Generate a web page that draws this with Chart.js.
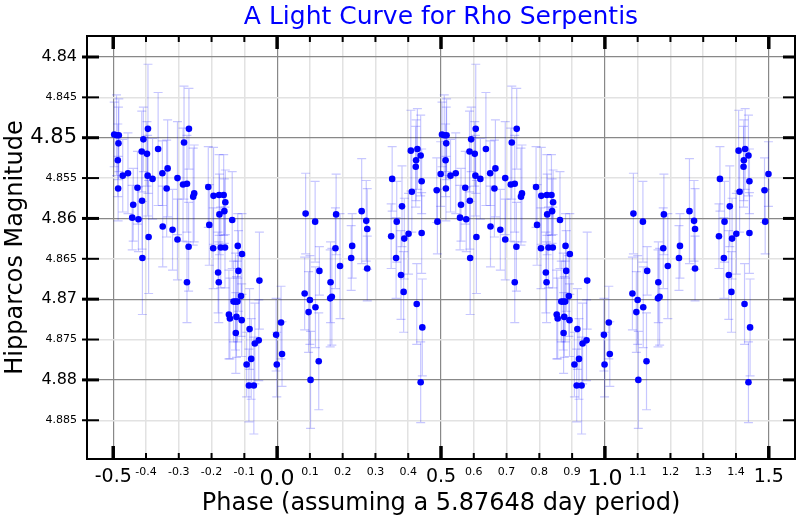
<!DOCTYPE html>
<html>
<head>
<meta charset="utf-8">
<script src="https://cdn.jsdelivr.net/npm/chart.js@4/dist/chart.umd.min.js"></script>
<style>
body{margin:0;background:#fff}
#wrap{width:800px;height:520px}
</style>
</head>
<body>
<div id="wrap"><canvas id="myChart" width="800" height="520"></canvas></div>
<script>
// one cycle of Hipparcos measurements, phase -0.5..0.5 (plotted twice)
var phase = [
 -0.497,-0.490,-0.486,-0.485,-0.484,-0.483,-0.471,-0.455,-0.442,-0.439,
 -0.426,-0.423,-0.413,-0.412,-0.411,-0.408,-0.397,-0.395,-0.394,-0.392,
 -0.380,-0.363,-0.350,-0.349,-0.337,-0.334,-0.319,-0.304,-0.304,-0.287,
 -0.284,-0.275,-0.275,-0.270,-0.269,-0.256,-0.253,-0.210,-0.207,-0.195,
 -0.194,-0.180,-0.178,-0.177,-0.176,-0.172,-0.163,-0.161,-0.159,-0.158,
 -0.147,-0.144,-0.137,-0.133,-0.127,-0.126,-0.124,-0.121,-0.120,-0.118,
 -0.110,-0.108,-0.107,-0.093,-0.086,-0.084,-0.079,-0.071,-0.068,-0.056,
 -0.054,-0.003,-0.001,0.012,0.015,0.084,0.087,0.096,0.100,0.102,
 0.116,0.117,0.127,0.129,0.162,0.163,0.167,0.178,0.180,0.192,
 0.226,0.229,0.258,0.272,0.275,0.275,0.348,0.351,0.363,0.365,
 0.378,0.381,0.386,0.388,0.401,0.408,0.411,0.423,0.424,0.426,
 0.428,0.438,0.438,0.441,0.441,0.443,0.487,0.489,0.499
]
var mag = [
 4.8496,4.8497,4.8528,4.8563,4.8507,4.8497,4.8547,4.8544,4.8599,4.8583,
 4.8562,4.8601,4.8517,4.8578,4.8649,4.8502,4.8520,4.8547,4.8489,4.8623,
 4.8551,4.8514,4.8544,4.8610,4.8563,4.8538,4.8614,4.8550,4.8626,4.8558,
 4.8506,4.8557,4.8679,4.8635,4.8489,4.8573,4.8569,4.8561,4.8608,4.8637,
 4.8572,4.8667,4.8679,4.8571,4.8595,4.8636,4.8571,4.8591,4.8636,4.8580,
 4.8719,4.8724,4.8602,4.8703,4.8703,4.8742,4.8722,4.8703,4.8634,4.8665,
 4.8696,4.8726,4.8644,4.8781,4.8807,4.8737,4.8774,4.8807,4.8755,4.8751,
 4.8677,4.8744,4.8781,4.8729,4.8768,4.8693,4.8594,4.8716,4.8701,4.8800,
 4.8604,4.8710,4.8777,4.8665,4.8699,4.8679,4.8697,4.8637,4.8595,4.8659,
 4.8649,4.8634,4.8591,4.8603,4.8613,4.8662,4.8622,4.8551,4.8649,4.8604,
 4.8670,4.8585,4.8691,4.8625,4.8619,4.8516,4.8567,4.8536,4.8528,4.8706,
 4.8514,4.8522,4.8803,4.8554,4.8618,4.8735,4.8565,4.8604,4.8545
]
var err = [
 .0040,.0050,.0045,.0040,.0045,.0045,.0045,.0050,.0040,.0045,
 .0045,.0040,.0050,.0060,.0070,.0040,.0040,.0050,.0080,.0070,
 .0050,.0070,.0040,.0050,.0060,.0060,.0050,.0070,.0050,.0070,
 .0070,.0060,.0050,.0055,.0050,.0060,.0060,.0050,.0050,.0050,
 .0060,.0050,.0050,.0050,.0050,.0050,.0050,.0040,.0050,.0040,
 .0055,.0050,.0060,.0050,.0060,.0050,.0050,.0050,.0040,.0050,
 .0050,.0045,.0050,.0040,.0045,.0050,.0050,.0060,.0050,.0050,
 .0060,.0045,.0040,.0045,.0040,.0045,.0050,.0050,.0055,.0060,
 .0050,.0050,.0060,.0030,.0060,.0050,.0060,.0050,.0050,.0065,
 .0040,.0040,.0065,.0050,.0050,.0040,.0040,.0040,.0050,.0050,
 .0055,.0050,.0050,.0050,.0050,.0050,.0050,.0050,.0050,.0050,
 .0050,.0050,.0050,.0040,.0050,.0060,.0040,.0040,.0040
]

var xTicks = [-0.5,-0.4,-0.3,-0.2,-0.1,0,0.1,0.2,0.3,0.4,0.5,0.6,0.7,0.8,0.9,1,1.1,1.2,1.3,1.4,1.5]
var xLabels = ['-0.5','-0.4','-0.3','-0.2','-0.1','0.0','0.1','0.2','0.3','0.4','0.5',
               '0.6','0.7','0.8','0.9','1.0','1.1','1.2','1.3','1.4','1.5']
var xMajor = ['-0.5','0.0','0.5','1.0','1.5']
var yTicks = [4.84,4.845,4.85,4.855,4.86,4.865,4.87,4.875,4.88,4.885]
var yLabels = ['4.84','4.845','4.85','4.855','4.86','4.865','4.87','4.875','4.88','4.885']
var yMajor = ['4.84','4.85','4.86','4.87','4.88']

var points = []
for (var i = 0; i < phase.length; i++) {
    points.push({x: phase[i], y: mag[i], e: err[i]})
    points.push({x: phase[i] + 1, y: mag[i], e: err[i]})
}

function xSize(lab) {
    if (lab == '0.0' || lab == '1.0') return 22
    return xMajor.indexOf(lab) >= 0 ? 19 : 11
}
function ySize(lab) {
    if (lab == '4.85') return 21
    return yMajor.indexOf(lab) >= 0 ? 16 : 11
}

var frame = {
    id: 'frame',
    beforeDatasetsDraw: function(chart) {
        var ctx = chart.ctx, xs = chart.scales.x, ys = chart.scales.y, a = chart.chartArea
        ctx.save()
        ctx.beginPath()
        ctx.rect(a.left, a.top, a.right - a.left, a.bottom - a.top)
        ctx.clip()
        ctx.strokeStyle = 'rgba(0,0,255,0.22)'
        ctx.lineWidth = 1.2
        chart.data.datasets[0].data.forEach(function(p) {
            var x = xs.getPixelForValue(p.x)
            var y1 = ys.getPixelForValue(p.y - p.e)
            var y2 = ys.getPixelForValue(p.y + p.e)
            ctx.beginPath()
            ctx.moveTo(x, y1); ctx.lineTo(x, y2)
            ctx.moveTo(x - 4.5, y1); ctx.lineTo(x + 4.5, y1)
            ctx.moveTo(x - 4.5, y2); ctx.lineTo(x + 4.5, y2)
            ctx.stroke()
        })
        ctx.restore()
    },
    afterDraw: function(chart) {
        var ctx = chart.ctx, xs = chart.scales.x, ys = chart.scales.y, a = chart.chartArea
        ctx.save()
        ctx.strokeStyle = '#000'
        function line(x1, y1, x2, y2) {
            ctx.beginPath(); ctx.moveTo(x1, y1); ctx.lineTo(x2, y2); ctx.stroke()
        }
        xs.ticks.forEach(function(t, i) {
            var x = xs.getPixelForValue(t.value)
            var big = xMajor.indexOf(xLabels[i]) >= 0
            var len = big ? 13 : 6
            ctx.lineWidth = big ? 3.5 : 2
            line(x, a.bottom, x, a.bottom - len)
            line(x, a.top, x, a.top + len)
        })
        ys.ticks.forEach(function(t, i) {
            var y = ys.getPixelForValue(t.value)
            var big = yMajor.indexOf(yLabels[i]) >= 0
            ctx.lineWidth = big ? 3 : 2
            line(a.left - 5, y, a.left + 12, y)
            line(a.right - 12, y, a.right, y)
        })
        ctx.lineWidth = 2
        ctx.strokeRect(a.left, a.top, a.right - a.left, a.bottom - a.top)
        ctx.restore()
    }
}

Chart.defaults.font.family = 'DejaVu Sans'
Chart.defaults.color = '#000'

var ctx = document.getElementById('myChart')
var myChart = new Chart(ctx, {
    type: 'scatter',
    data: {
        datasets: [{
            data: points,
            backgroundColor: '#0000ff',
            borderWidth: 0,
            pointRadius: 3.3,
            pointHoverRadius: 3.3
        }]
    },
    plugins: [frame],
    options: {
        responsive: false,
        animation: false,
        layout: {padding: {top: 0, right: 5, bottom: 0, left: 0}},
        plugins: {
            legend: {display: false},
            tooltip: {enabled: false},
            title: {
                display: true,
                text: 'A Light Curve for Rho Serpentis',
                color: '#0000ff',
                fullSize: false,
                font: {size: 25, weight: 'normal'},
                padding: {top: 2, bottom: 4}
            }
        },
        scales: {
            x: {
                type: 'linear',
                min: -0.58,
                max: 1.58,
                afterBuildTicks: function(scale) {
                    scale.ticks = xTicks.map(function(v) { return {value: v} })
                },
                afterFit: function(scale) { scale.height = 61 },
                ticks: {
                    autoSkip: false,
                    maxRotation: 0,
                    padding: 7,
                    callback: function(v, i) { return xLabels[i] },
                    font: function(c) { return {size: xSize(xLabels[c.index])} }
                },
                grid: {
                    drawTicks: false,
                    color: function(c) { return xMajor.indexOf(xLabels[c.index]) >= 0 ? '#888888' : '#e2e2e2' },
                    lineWidth: function(c) { return xMajor.indexOf(xLabels[c.index]) >= 0 ? 1.2 : 1.5 }
                },
                border: {display: false},
                title: {
                    display: true,
                    text: 'Phase (assuming a 5.87648 day period)',
                    font: {size: 24},
                    padding: {top: 0, bottom: 2}
                }
            },
            y: {
                type: 'linear',
                reverse: true,
                min: 4.8374,
                max: 4.8898,
                afterBuildTicks: function(scale) {
                    scale.ticks = yTicks.map(function(v) { return {value: v} })
                },
                afterFit: function(scale) { scale.width = 87 },
                ticks: {
                    autoSkip: false,
                    padding: 10,
                    callback: function(v, i) { return yLabels[i] },
                    font: function(c) { return {size: ySize(yLabels[c.index])} }
                },
                grid: {
                    drawTicks: false,
                    color: function(c) { return yMajor.indexOf(yLabels[c.index]) >= 0 ? '#888888' : '#e2e2e2' },
                    lineWidth: function(c) { return yMajor.indexOf(yLabels[c.index]) >= 0 ? 1.2 : 1.5 }
                },
                border: {display: false},
                title: {
                    display: true,
                    text: 'Hipparcos Magnitude',
                    font: {size: 24},
                    padding: {top: 1, bottom: 0}
                }
            }
        }
    }
})
</script>
</body>
</html>
